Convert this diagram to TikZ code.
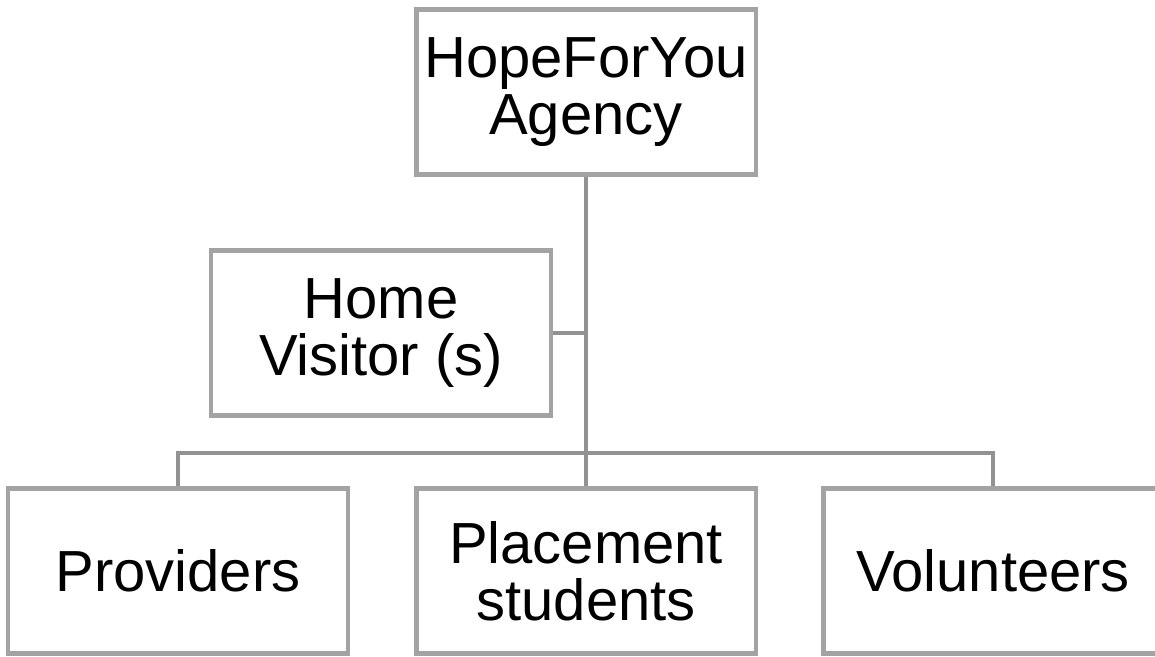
\documentclass[tikz,border=0pt]{standalone}
\usepackage{fontspec}
\setmainfont{Liberation Sans}
\usepackage{tikz}
\usetikzlibrary{positioning}

\definecolor{boxgray}{RGB}{163,163,163}
\definecolor{linkgray}{RGB}{146,146,146}

\begin{document}
\begin{tikzpicture}[x=0.02cm,y=-0.02cm,
	unit/.style={draw=boxgray, line width=2.8pt, fill=white, align=center,
		minimum width=6.8cm, minimum height=3.3cm, inner sep=0pt,
		font=\fontsize{33}{32.5}\selectfont},
	link/.style={draw=linkgray, line width=2.8pt}]
	\useasboundingbox (0,0) rectangle (1155,656);

	\node[unit] (agency) at (586,92) {HopeForYou\\Agency};
	\node[unit] (visitor) at (381,333) {Home\\Visitor (s)};
	\node[unit] (providers) at (178,571) {Providers};
	\node[unit] (placement) at (586,571) {Placement\\students};
	\node[unit] (volunteers) at (993,571) {Volunteers};

	\coordinate (bus) at (586,453);

	\draw[link] (agency.south) -- (placement.north);
	\draw[link] (providers.north) |- (bus) -| (volunteers.north);
	\draw[link] (visitor.east) -- (visitor.east -| agency.south);
\end{tikzpicture}
\end{document}
